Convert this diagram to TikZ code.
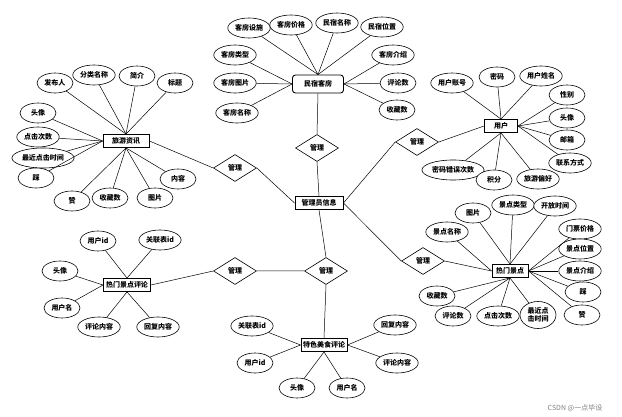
\documentclass[tikz,border=0pt]{standalone}
\usepackage{fontspec}
\setmainfont{Noto Sans CJK SC}
\usetikzlibrary{shapes.geometric}
\tikzset{attr/.style={draw,ellipse,fill=white,line width=0.6pt,inner xsep=1pt,inner ysep=0pt,minimum width=36pt,minimum height=20pt},
  ent/.style={draw,line width=0.9pt,fill=white,minimum height=13pt,inner xsep=2pt,inner ysep=1pt},
  rel/.style={draw,diamond,fill=white,line width=0.6pt,minimum width=43pt,minimum height=27pt,inner sep=0pt},
  ln/.style={line width=0.5pt}}

\begin{document}
\begin{tikzpicture}[x=1pt,y=-1pt,font=\fontsize{7}{8}\selectfont\bfseries]
\useasboundingbox (0,0) rectangle (622,417);
% entities
\node[ent,rounded corners=3pt,minimum width=51pt,minimum height=18pt] (mk) at (318,84) {民宿客房};
\node[ent,minimum width=48pt] (gly) at (319,203) {管理员信息};
\node[ent,minimum width=46pt] (zx) at (126,141) {旅游资讯};
\node[ent,minimum width=33pt] (yh) at (501,126) {用户};
\node[ent,minimum width=36pt] (rmjd) at (510,271) {热门景点};
\node[ent,minimum width=47pt] (rmpl) at (127,285) {热门景点评论};
\node[ent,minimum width=46pt] (msp) at (324,345) {特色美食评论};
% relations
\node[rel] (dt) at (317,148) {管理};
\node[rel] (dl) at (235,168) {管理};
\node[rel] (dur) at (417,142) {管理};
\node[rel] (dlr) at (423,261) {管理};
\node[rel] (dll) at (235,271) {管理};
\node[rel] (dlc) at (326,271) {管理};
\draw[ln] (mk.south) -- (dt.north) (dt.south) -- (gly.north);
\draw[ln] (zx.east) -- (dl.west) (dl.east) -- (gly.west);
\draw[ln] (gly.east) -- (dur.west) (dur.east) -- (yh.west);
\draw[ln] (gly.east) -- (dlr.west) (dlr.east) -- (rmjd.west);
\draw[ln] (gly.south) -- (dlc.north) (dlc.south) -- (msp.north);
\draw[ln] (rmpl.east) -- (dll.west) (dll.east) -- (dlc.west);
% 民宿客房
\node[attr] (m1) at (249,28) {客房设施};
\node[attr] (m2) at (291,25) {客房价格};
\node[attr] (m3) at (337,23) {民宿名称};
\node[attr] (m4) at (382,27) {民宿位置};
\node[attr] (m5) at (235,55) {客房类型};
\node[attr] (m6) at (235,83) {客房图片};
\node[attr] (m7) at (237,113) {客房名称};
\node[attr] (m8) at (393,55) {客房介绍};
\node[attr] (m9) at (398,83) {评论数};
\node[attr] (m10) at (397,110) {收藏数};
\foreach \i in {1,...,4} \draw[ln] (mk.north) -- (m\i);
\foreach \i in {5,6,7} \draw[ln] (mk.west) -- (m\i);
\foreach \i in {8,9,10} \draw[ln] (mk.east) -- (m\i);
% 旅游资讯
\node[attr] (z1) at (55,83) {发布人};
\node[attr] (z2) at (94,75) {分类名称};
\node[attr] (z3) at (137,76) {简介};
\node[attr] (z4) at (175,83) {标题};
\node[attr] (z5) at (38,113) {头像};
\node[attr] (z6) at (38,137) {点击次数};
\node[attr] (z7) at (43,158) {最近点击时间};
\node[attr] (z8) at (36,178) {踩};
\node[attr] (z9) at (72,201) {赞};
\node[attr] (z10) at (110,198) {收藏数};
\node[attr] (z11) at (155,198) {图片};
\node[attr] (z12) at (178,179) {内容};
\foreach \i in {1,...,4} \draw[ln] (zx.north) -- (z\i);
\foreach \i in {5,...,8} \draw[ln] (zx.west) -- (z\i);
\foreach \i in {9,...,12} \draw[ln] (zx.south) -- (z\i);
% 用户
\node[attr] (y1) at (452,83) {用户账号};
\node[attr] (y2) at (497,77) {密码};
\node[attr] (y3) at (541,76) {用户姓名};
\node[attr] (y4) at (567,95) {性别};
\node[attr] (y5) at (567,118) {头像};
\node[attr] (y6) at (567,140) {邮箱};
\node[attr] (y7) at (570,163) {联系方式};
\node[attr] (y10) at (453,170) {密码错误次数};
\node[attr] (y9) at (494,180) {积分};
\node[attr] (y8) at (538,179) {旅游偏好};
\foreach \i in {1,2,3} \draw[ln] (yh.north) -- (y\i);
\foreach \i in {4,...,7} \draw[ln] (yh.east) -- (y\i);
\foreach \i in {8,9,10} \draw[ln] (yh.south) -- (y\i);
% 热门景点
\node[attr] (r1) at (473,213) {图片};
\node[attr] (r2) at (513,205) {景点类型};
\node[attr] (r3) at (555,206) {开放时间};
\node[attr] (r4) at (447,232) {景点名称};
\node[attr] (r5) at (580,229) {门票价格};
\node[attr] (r6) at (580,249) {景点位置};
\node[attr] (r7) at (580,271) {景点介绍};
\node[attr] (r8) at (583,292) {踩};
\node[attr] (r9) at (582,315) {赞};
\node[attr,align=center,minimum height=27pt] (r10) at (538,315) {最近点\\击时间};
\node[attr] (r11) at (498,316) {点击次数};
\node[attr] (r12) at (453,316) {评论数};
\node[attr] (r13) at (437,296) {收藏数};
\foreach \i in {1,2,3} \draw[ln] (rmjd.north) -- (r\i);
\draw[ln] (rmjd.west) -- (r4);
\foreach \i in {5,...,9} \draw[ln] (rmjd.east) -- (r\i);
\foreach \i in {10,...,13} \draw[ln] (rmjd.south) -- (r\i);
% 热门景点评论
\node[attr] (p1) at (98,241) {用户id};
\node[attr] (p2) at (160,240) {关联表id};
\node[attr] (p3) at (60,271) {头像};
\node[attr] (p4) at (62,308) {用户名};
\node[attr] (p5) at (99,327) {评论内容};
\node[attr] (p6) at (158,327) {回复内容};
\foreach \i in {1,2} \draw[ln] (rmpl.north) -- (p\i);
\foreach \i in {3,4} \draw[ln] (rmpl.west) -- (p\i);
\foreach \i in {5,6} \draw[ln] (rmpl.south) -- (p\i);
% 特色美食评论
\node[attr] (s1) at (252,326) {关联表id};
\node[attr] (s2) at (255,363) {用户id};
\node[attr] (s3) at (297,388) {头像};
\node[attr] (s4) at (347,388) {用户名};
\node[attr] (s5) at (395,325) {回复内容};
\node[attr] (s6) at (397,363) {评论内容};
\foreach \i in {1,2} \draw[ln] (msp.west) -- (s\i);
\foreach \i in {3,4} \draw[ln] (msp.south) -- (s\i);
\foreach \i in {5,6} \draw[ln] (msp.east) -- (s\i);
\node[gray,font=\fontsize{7}{8}\selectfont] (wm) at (575,408) {CSDN @一点毕设};
\end{tikzpicture}
\end{document}
